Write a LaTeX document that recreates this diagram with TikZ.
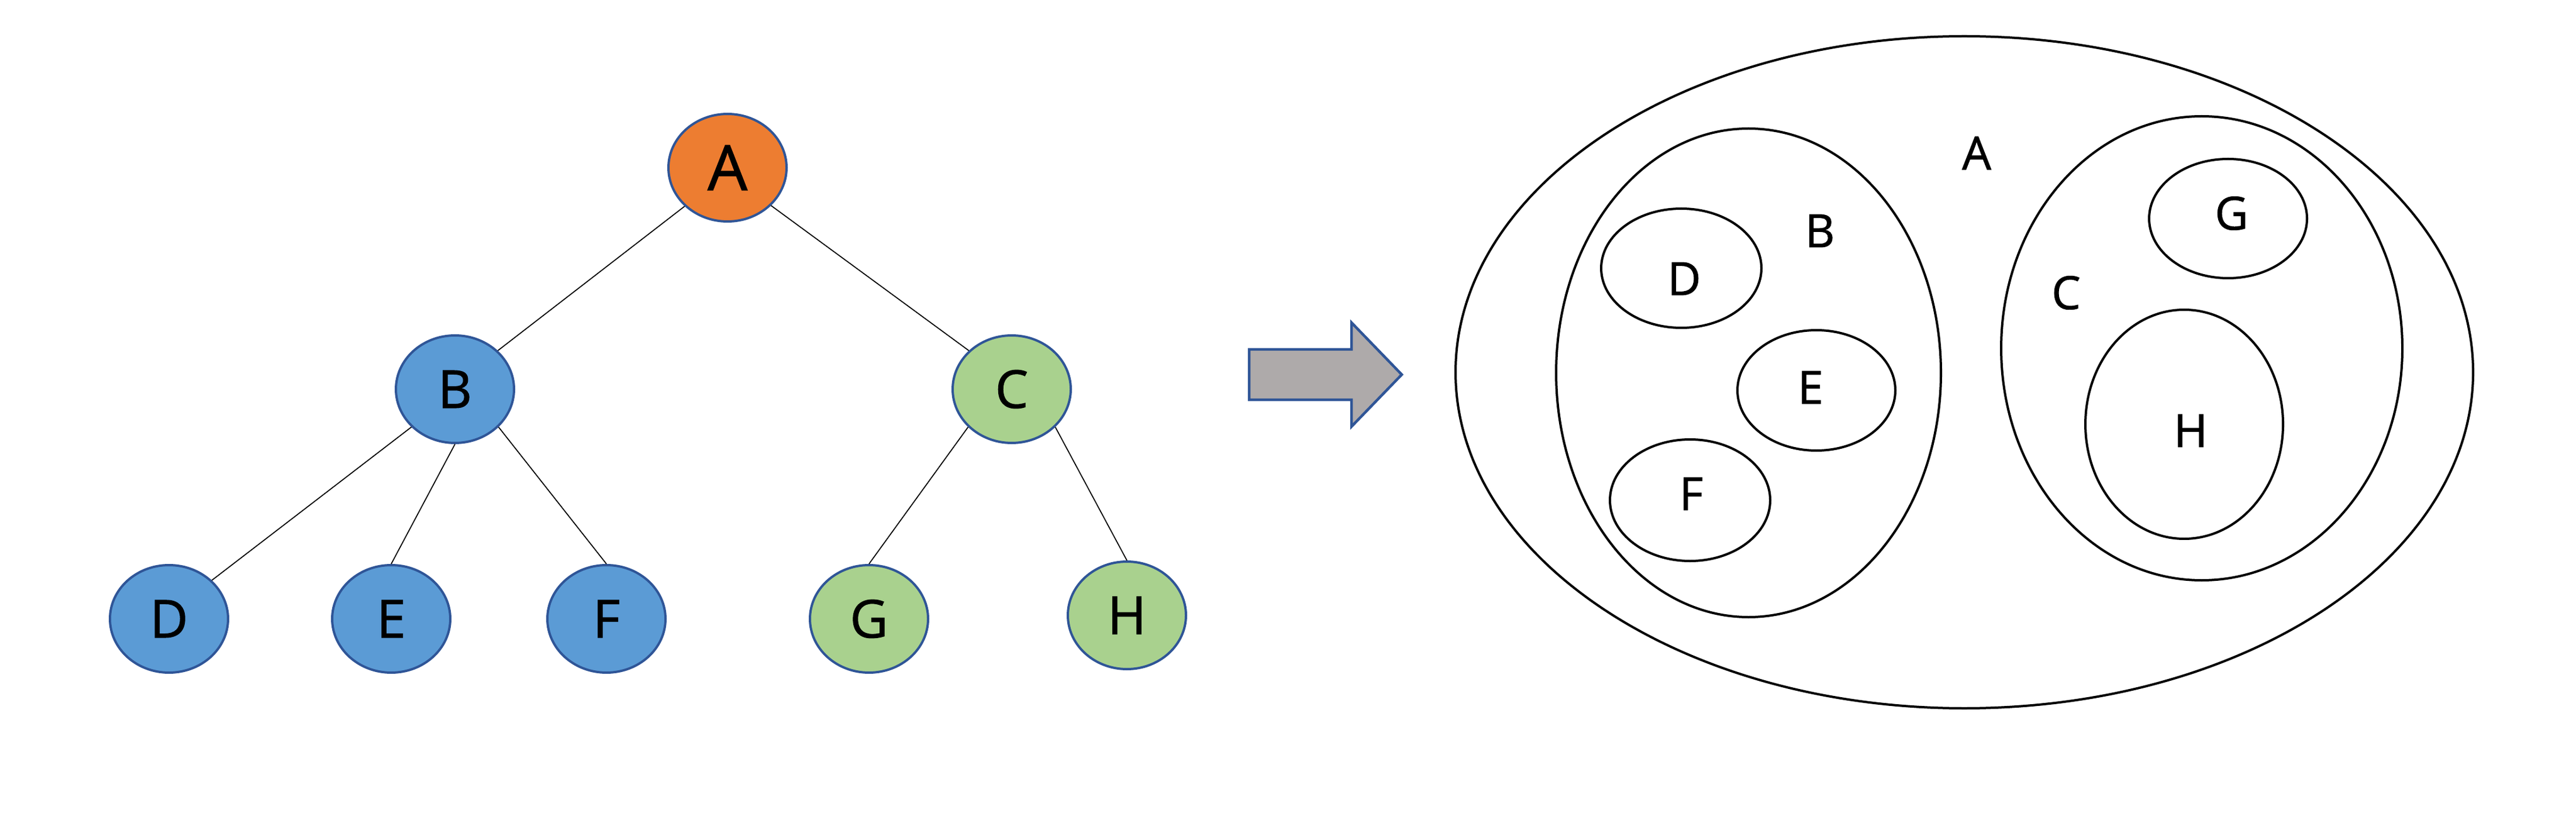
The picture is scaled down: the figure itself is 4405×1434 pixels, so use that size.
\documentclass[tikz,border=0pt]{standalone}
\usepackage{fontspec}
\setmainfont{Open Sans}
\newfontfamily\labelfont[FakeBold=1.2]{Open Sans}
\usetikzlibrary{shapes}
\definecolor{nodeorange}{HTML}{ED7D31}
\definecolor{nodeblue}{HTML}{5B9BD5}
\definecolor{nodegreen}{HTML}{A9D18E}
\definecolor{nodeborder}{HTML}{2F5597}
\definecolor{arrowgray}{HTML}{AEAAAA}
\tikzset{
  treenode/.style = {ellipse, draw=nodeborder, line width=0.4mm, inner sep=0pt,
    minimum width=20.2mm, minimum height=18.4mm, font=\labelfont\fontsize{25.5}{26}\selectfont},
  overtex/.style = {treenode, fill=nodeorange, font=\labelfont\fontsize{30.5}{31}\selectfont},% racine
  bvertex/.style = {treenode, fill=nodeblue},
  gvertex/.style = {treenode, fill=nodegreen},
  edge/.style = {line width=0.5pt, black},
  setline/.style = {line width=0.4mm, black},
  setlabel/.style = {inner sep=0pt, font=\labelfont\fontsize{22.3}{23}\selectfont},
}
\begin{document}
\begin{tikzpicture}[x=0.1mm,y=-0.1mm]
\useasboundingbox (0,0) rectangle (4405,1434);
% arbre
\node [overtex] (A) at (1244,287) {A};
\node [bvertex] (B) at (778,666) {B};
\node [gvertex] (C) at (1730,666) {C};
\node [bvertex] (D) at (289,1059) {D};
\node [bvertex] (E) at (669,1059) {E};
\node [bvertex] (F) at (1037,1059) {F};
\node [gvertex] (G) at (1486,1059) {G};
\node [gvertex] (H) at (1927,1053) {H};
\draw [edge] (A.222) -- (B.42);
\draw [edge] (A.319) -- (C.138);
\draw [edge] (B.221) -- (D.42);
\draw [edge] (B.270) -- (E.90);
\draw [edge] (B.319) -- (F.90);
\draw [edge] (C.221) -- (G.90);
\draw [edge] (C.319) -- (H.90);
% fleche
\draw [nodeborder, fill=arrowgray, line width=0.45mm, line join=miter]
  (2136,598) -- (2311,598) -- (2311,552) -- (2397,641) -- (2311,730)
  -- (2311,684) -- (2136,684) -- cycle;
% ensembles
\draw [setline] (3359,637) ellipse (870 and 575);
\draw [setline] (2990,638) ellipse (329 and 418);
\draw [setline] (2875,459) ellipse (137 and 102);
\draw [setline] (3106,668) ellipse (135 and 103);
\draw [setline] (2890,856) ellipse (137 and 104);
\draw [setline] (3765,596) ellipse (343 and 397);
\draw [setline] (3810,374) ellipse (135 and 102);
\draw [setline] (3735,726) ellipse (169 and 196);
\node [setlabel] (la) at (3380,262) {A};
\node [setlabel] (lb) at (3112,395) {B};
\node [setlabel] (lc) at (3533,501) {C};
\node [setlabel] (ld) at (2880,477) {D};
\node [setlabel] (le) at (3096,663) {E};
\node [setlabel] (lf) at (2892,845) {F};
\node [setlabel] (lg) at (3816,365) {G};
\node [setlabel] (lh) at (3746,737) {H};
\end{tikzpicture}
\end{document}
